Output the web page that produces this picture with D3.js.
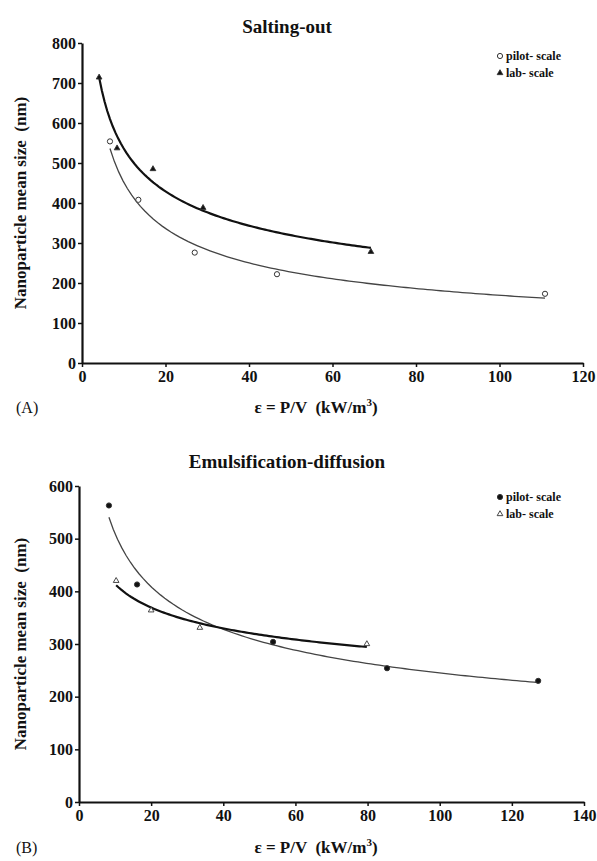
<!DOCTYPE html>
<html>
<head>
<meta charset="utf-8">
<script src="https://cdn.jsdelivr.net/npm/d3@7"></script>
<style>
  body { margin: 0; background: #fff; }
  svg text { font-family: "Liberation Serif", "DejaVu Serif", serif; fill: #111; }
  .tick text { font-weight: bold; font-size: 16px; }
  .domain { stroke: #111; stroke-width: 2.2px; }
  .tick line { stroke: #111; stroke-width: 1.5px; }
</style>
</head>
<body>
<div class="canvas"></div>
<script>
// Panel A: salting-out
const saltPilotX = [6.7, 13.5, 27, 46.7, 110.9];
const saltPilotY = [554, 408, 276, 222, 173];
const saltLabX = [4.1, 8.4, 17, 29, 69.2];
const saltLabY = [714, 537, 485, 388, 278];
const saltXTicks = [0, 20, 40, 60, 80, 100, 120];
const saltYTicks = [0, 100, 200, 300, 400, 500, 600, 700, 800];

// Panel B: emulsification-diffusion
const emulPilotX = [8.3, 16.1, 53.8, 85.4, 127.3];
const emulPilotY = [563, 413, 304, 254, 230];
const emulLabX = [10.3, 20, 33.5, 79.8];
const emulLabY = [420, 364, 331, 300];
const emulXTicks = [0, 20, 40, 60, 80, 100, 120, 140];
const emulYTicks = [0, 100, 200, 300, 400, 500, 600];

const WIDTH = 597,
  HEIGHT = 861,
  SERIF = '"Liberation Serif", "DejaVu Serif", serif';

const PANELS = [
  {
    title: "Salting-out",
    tag: "(A)",
    left: 82, right: 583, top: 43, bottom: 363,
    xTicks: saltXTicks, yTicks: saltYTicks,
    pilot: { x: saltPilotX, y: saltPilotY, symbol: "open-circle" },
    lab: { x: saltLabX, y: saltLabY, symbol: "filled-triangle" },
    titleY: 33, xLabelY: 413, legendY: 60,
  },
  {
    title: "Emulsification-diffusion",
    tag: "(B)",
    left: 79, right: 584, top: 486, bottom: 802,
    xTicks: emulXTicks, yTicks: emulYTicks,
    pilot: { x: emulPilotX, y: emulPilotY, symbol: "filled-circle" },
    lab: { x: emulLabX, y: emulLabY, symbol: "open-triangle" },
    titleY: 468, xLabelY: 853, legendY: 501,
  },
];

const svg = d3
  .select(".canvas")
  .append("svg")
  .attr("width", WIDTH)
  .attr("height", HEIGHT);

PANELS.forEach(drawPanel);

// least squares power-law trend y = a * x^b
function powerFit(xs, ys) {
  const lx = xs.map(Math.log),
    ly = ys.map(Math.log);
  const mx = d3.mean(lx),
    my = d3.mean(ly);
  const b =
    d3.sum(lx, (v, i) => (v - mx) * (ly[i] - my)) /
    d3.sum(lx, (v) => (v - mx) * (v - mx));
  const a = Math.exp(my - b * mx);
  return (x) => a * Math.pow(x, b);
}

function drawMarker(g, symbol, cx, cy) {
  if (symbol.endsWith("circle")) {
    g.append("circle")
      .attr("cx", cx)
      .attr("cy", cy)
      .attr("r", 2.6)
      .attr("fill", symbol.startsWith("open") ? "#fff" : "#111")
      .attr("stroke", "#333")
      .attr("stroke-width", 1);
  } else {
    g.append("path")
      .attr("transform", `translate(${cx},${cy})`)
      .attr("d", d3.symbol(d3.symbolTriangle, 14)())
      .attr("fill", symbol.startsWith("open") ? "#fff" : "#111")
      .attr("stroke", "#333")
      .attr("stroke-width", 0.9);
  }
}

function drawPanel(p) {
  const x = d3
    .scaleLinear()
    .domain(d3.extent(p.xTicks))
    .range([p.left, p.right]);
  const y = d3
    .scaleLinear()
    .domain(d3.extent(p.yTicks))
    .range([p.bottom, p.top]);

  const g = svg.append("g");

  g.append("g")
    .attr("transform", `translate(0,${p.bottom})`)
    .call(d3.axisBottom(x).tickValues(p.xTicks).tickSize(4).tickSizeOuter(0).tickPadding(4))
    .attr("font-family", SERIF);
  g.append("g")
    .attr("transform", `translate(${p.left},0)`)
    .call(d3.axisLeft(y).tickValues(p.yTicks).tickSize(4).tickSizeOuter(0).tickPadding(2))
    .attr("font-family", SERIF);

  // trend curves: lab thick, pilot thin
  [
    { s: p.pilot, width: 1.3, color: "#444" },
    { s: p.lab, width: 2.2, color: "#111" },
  ].forEach(({ s, width, color }) => {
    const f = powerFit(s.x, s.y);
    const [x0, x1] = d3.extent(s.x);
    const xs = d3.range(0, 101).map((i) => x0 + ((x1 - x0) * i) / 100);
    g.append("path")
      .datum(xs)
      .attr("fill", "none")
      .attr("stroke", color)
      .attr("stroke-width", width)
      .attr(
        "d",
        d3
          .line()
          .x((d) => x(d))
          .y((d) => y(f(d)))
      );
  });

  [p.pilot, p.lab].forEach((s) => {
    s.x.forEach((v, i) => drawMarker(g, s.symbol, x(v), y(s.y[i])));
  });

  // titles and labels
  g.append("text")
    .attr("x", 287)
    .attr("y", p.titleY)
    .attr("text-anchor", "middle")
    .attr("font-weight", "bold")
    .attr("font-size", 19)
    .text(p.title);

  const xl = g
    .append("text")
    .attr("x", 316)
    .attr("y", p.xLabelY)
    .attr("text-anchor", "middle")
    .attr("font-weight", "bold")
    .attr("font-size", 17)
    .attr("xml:space", "preserve");
  xl.append("tspan").text("ε = P/V  (kW/m");
  xl.append("tspan").attr("font-size", 11).attr("dy", -7).text("3");
  xl.append("tspan").attr("dy", 7).text(")");

  g.append("text")
    .attr("x", 16)
    .attr("y", p.xLabelY)
    .attr("font-size", 16)
    .text(p.tag);

  g.append("text")
    .attr("transform", `translate(26,${(p.top + p.bottom) / 2}) rotate(-90)`)
    .attr("text-anchor", "middle")
    .attr("font-weight", "bold")
    .attr("font-size", 17)
    .attr("xml:space", "preserve")
    .text("Nanoparticle mean size  (nm)");

  // legend
  [
    { s: p.pilot, label: "pilot- scale" },
    { s: p.lab, label: "lab- scale" },
  ].forEach(({ s, label }, i) => {
    const ly = p.legendY + i * 17;
    drawMarker(g, s.symbol, 500, ly - 4);
    g.append("text")
      .attr("x", 506)
      .attr("y", ly)
      .attr("font-weight", "bold")
      .attr("font-size", 12)
      .text(label);
  });
}
</script>
</body>
</html>
